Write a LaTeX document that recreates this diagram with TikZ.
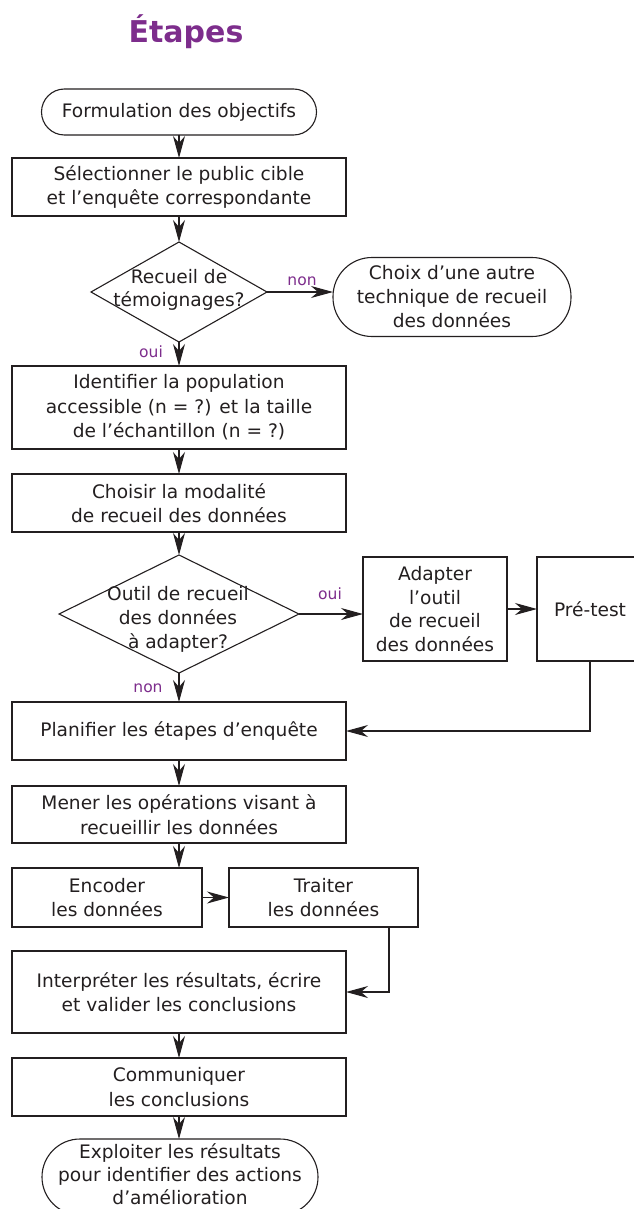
\documentclass[tikz,border=0pt]{standalone}
\usepackage{fontspec}
\setmainfont{DejaVu Sans}
\usetikzlibrary{arrows.meta}
\definecolor{purp}{RGB}{125,45,140}
\definecolor{ink}{RGB}{35,31,32}
\begin{document}
\begin{tikzpicture}[x=1pt,y=-1pt,
  box/.style={draw=ink, line width=1.1pt, rectangle, inner sep=0pt, outer sep=0pt, align=center, text=ink, font=\fontsize{18.6}{24.5}\selectfont},
  pill/.style={box, rounded corners=#1},
  lbl/.style={text=purp, font=\fontsize{15.5}{18}\selectfont, inner sep=0pt},
  arr/.style={draw=ink, line width=1.1pt, -{Stealth[length=22pt,width=12pt,inset=7pt]}},
  conn/.style={draw=ink, line width=1.1pt},
  dshape/.style={inner sep=0pt, outer sep=0pt},
  dtext/.style={align=center, text=ink, inner sep=0pt, font=\fontsize{18.6}{23}\selectfont}
]
\useasboundingbox (0,0) rectangle (633,1209);

\node[text=purp, font=\bfseries\fontsize{30}{36}\selectfont, anchor=base] (title) at (186,43) {Étapes};

\node[pill=23pt, minimum width=275pt, minimum height=46pt] (n1) at (179,112) {Formulation des objectifs};
\node[box, minimum width=334pt, minimum height=58pt] (n2) at (179,187) {Sélectionner le public cible\\et l’enquête correspondante};

\node[dshape, minimum width=176pt, minimum height=100pt] (d1) at (179,292) {};
\draw[conn] (d1.north) -- (d1.east) -- (d1.south) -- (d1.west) -- cycle;
\node[dtext] (d1t) at (179,290) {Recueil de\\témoignages?};

\node[pill=39pt, minimum width=238pt, minimum height=79pt, font=\fontsize{18.6}{24}\selectfont] (n3) at (452,297) {Choix d’une autre\\technique de recueil\\des données};

\node[lbl] (l1) at (302,281) {non};
\node[lbl] (l2) at (151,352) {oui};

\node[box, minimum width=334pt, minimum height=83pt] (n4) at (179,407.5) {Identifier la population\\accessible (n = ?) et la taille\\de l’échantillon (n = ?)};
\node[box, minimum width=334pt, minimum height=58pt] (n5) at (179,503) {Choisir la modalité\\de recueil des données};

\node[dshape, minimum width=240pt, minimum height=118pt] (d2) at (179,614) {};
\draw[conn] (d2.north) -- (d2.east) -- (d2.south) -- (d2.west) -- cycle;
\node[dtext, font=\fontsize{18.6}{24}\selectfont] (d2t) at (178,619) {Outil de recueil\\des données\\à adapter?};

\node[lbl] (l3) at (330,594) {oui};
\node[box, minimum width=144pt, minimum height=104pt, font=\fontsize{18.6}{23.5}\selectfont] (n6) at (435,609) {Adapter\\l’outil\\de recueil\\des données};
\node[box, minimum width=106pt, minimum height=104pt] (n7) at (590,609) {Pré-test};

\node[lbl] (l4) at (148,688) {non};
\node[box, minimum width=334pt, minimum height=58pt] (n8) at (179,731) {Planifier les étapes d’enquête};
\node[box, minimum width=334pt, minimum height=57pt] (n9) at (179,814.5) {Mener les opérations visant à\\recueillir les données};
\node[box, minimum width=190pt, minimum height=59pt] (n10) at (107,897.5) {Encoder\\les données};
\node[box, minimum width=189pt, minimum height=59pt] (n11) at (323.5,897.5) {Traiter\\les données};
\node[box, minimum width=334pt, minimum height=82pt] (n12) at (179,992) {Interpréter les résultats, écrire\\et valider les conclusions};
\node[box, minimum width=334pt, minimum height=58pt] (n13) at (179,1087) {Communiquer\\les conclusions};
\node[pill=38pt, minimum width=276pt, minimum height=76pt, font=\fontsize{18.6}{23}\selectfont] (n14) at (180,1177) {};
\node[align=center, text=ink, inner sep=0pt, font=\fontsize{18.6}{23}\selectfont] (n14t) at (180,1174) {Exploiter les résultats\\pour identifier des actions\\d’amélioration};

\coordinate (tdown) at (389,927);

\draw[arr] (n1.south) -- (n1.south |- n2.north);
\draw[arr] (n2.south) -- (n2.south |- d1.north);
\draw[arr] (d1.east) -- (d1.east -| n3.west);
\draw[arr] (d1.south) -- (d1.south |- n4.north);
\draw[arr] (n4.south) -- (n4.south |- n5.north);
\draw[arr] (n5.south) -- (n5.south |- d2.north);
\draw[arr] (d2.east) -- (d2.east -| n6.west);
\draw[arr] (n6.east) -- (n6.east -| n7.west);
\draw[arr] (d2.south) -- (d2.south |- n8.north);
\draw[arr] (n7.south) |- (n8.east);
\draw[arr] (n8.south) -- (n8.south |- n9.north);
\draw[arr] (n9.south) -- (n9.south |- n10.north);
\draw[arr] (n10.east) -- (n10.east -| n11.west);
\draw[arr] (tdown) |- (n12.east);
\draw[arr] (n12.south) -- (n12.south |- n13.north);
\draw[arr] (n13.south) -- (n13.south |- n14.north);
\end{tikzpicture}
\end{document}
